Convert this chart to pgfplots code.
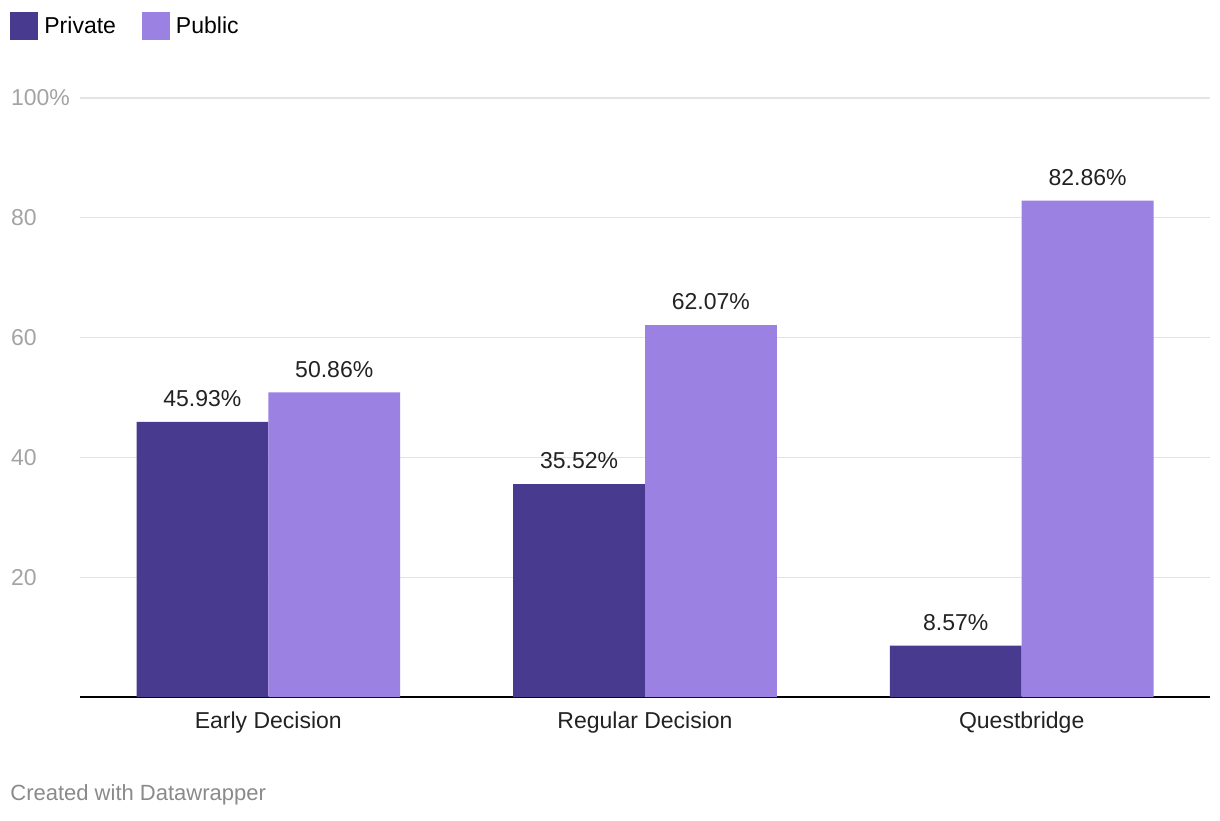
\documentclass[border=0pt]{standalone}
\usepackage{pgfplots}
\pgfplotsset{compat=1.18}
\usepackage{fontspec}
\setmainfont{Liberation Sans}
\definecolor{priv}{HTML}{483A8F}
\definecolor{pub}{HTML}{9B81E2}
\definecolor{gridc}{HTML}{E3E3E3}
\definecolor{tickc}{HTML}{A3A3A3}
\definecolor{foot}{HTML}{8A8A8A}
\definecolor{lab}{HTML}{222222}
\pgfplotsset{sqlegend/.style={legend image code/.code={\fill[#1] (0pt,-7pt) rectangle (14pt,7pt);}}}
\begin{document}
\begin{tikzpicture}
\useasboundingbox (0,0) rectangle (610pt,410pt);
\begin{axis}[
  at={(40pt,61.5pt)}, anchor=south west,
  scale only axis, width=565pt, height=299.5pt,
  xmin=-0.5, xmax=2.5, ymin=0, ymax=100,
  axis x line*=bottom, axis y line*=left,
  y axis line style={draw=none},
  x axis line style={black, line width=1pt, -},
  xtick={0,1,2},
  xticklabels={Early Decision, Regular Decision, Questbridge},
  ytick={20,40,60,80,100},
  yticklabels={20,40,60,80,100\%},
  major tick length=0pt,
  ymajorgrids, grid style={gridc, line width=0.6pt},
  font=\fontsize{11.5}{14}\selectfont,
  yticklabel style={anchor=west, xshift=-38pt, text=tickc},
  xticklabel style={yshift=-4pt, text=lab},
  ybar=0pt, bar width=0.35,
  nodes near coords={\pgfmathprintnumber[fixed,fixed zerofill,precision=2,assume math mode=true]{\pgfplotspointmeta}\%},
  every node near coord/.append style={text=lab, yshift=4pt, font=\fontsize{11.5}{14}\selectfont},
  legend columns=2,
  sqlegend,
  legend style={at={(0,1)}, anchor=north west, xshift=-35pt, yshift=43pt, draw=none, fill=none, inner sep=0pt,
    font=\fontsize{11.5}{14}\selectfont,
    /tikz/every even column/.append style={column sep=10pt},
    /tikz/every node/.append style={inner xsep=3pt}},
]
\addplot[fill=priv, draw=none, bar shift=-0.175] coordinates {(0,45.93) (1,35.52) (2,8.57)};
\addplot[fill=pub, draw=none, bar shift=0.175] coordinates {(0,50.86) (1,62.07) (2,82.86)};
\legend{Private, Public}
\end{axis}
\node[anchor=west, text=foot, font=\fontsize{11}{13}\selectfont, inner sep=0pt] at (5pt,12.5pt) {Created with Datawrapper};
\end{tikzpicture}
\end{document}
